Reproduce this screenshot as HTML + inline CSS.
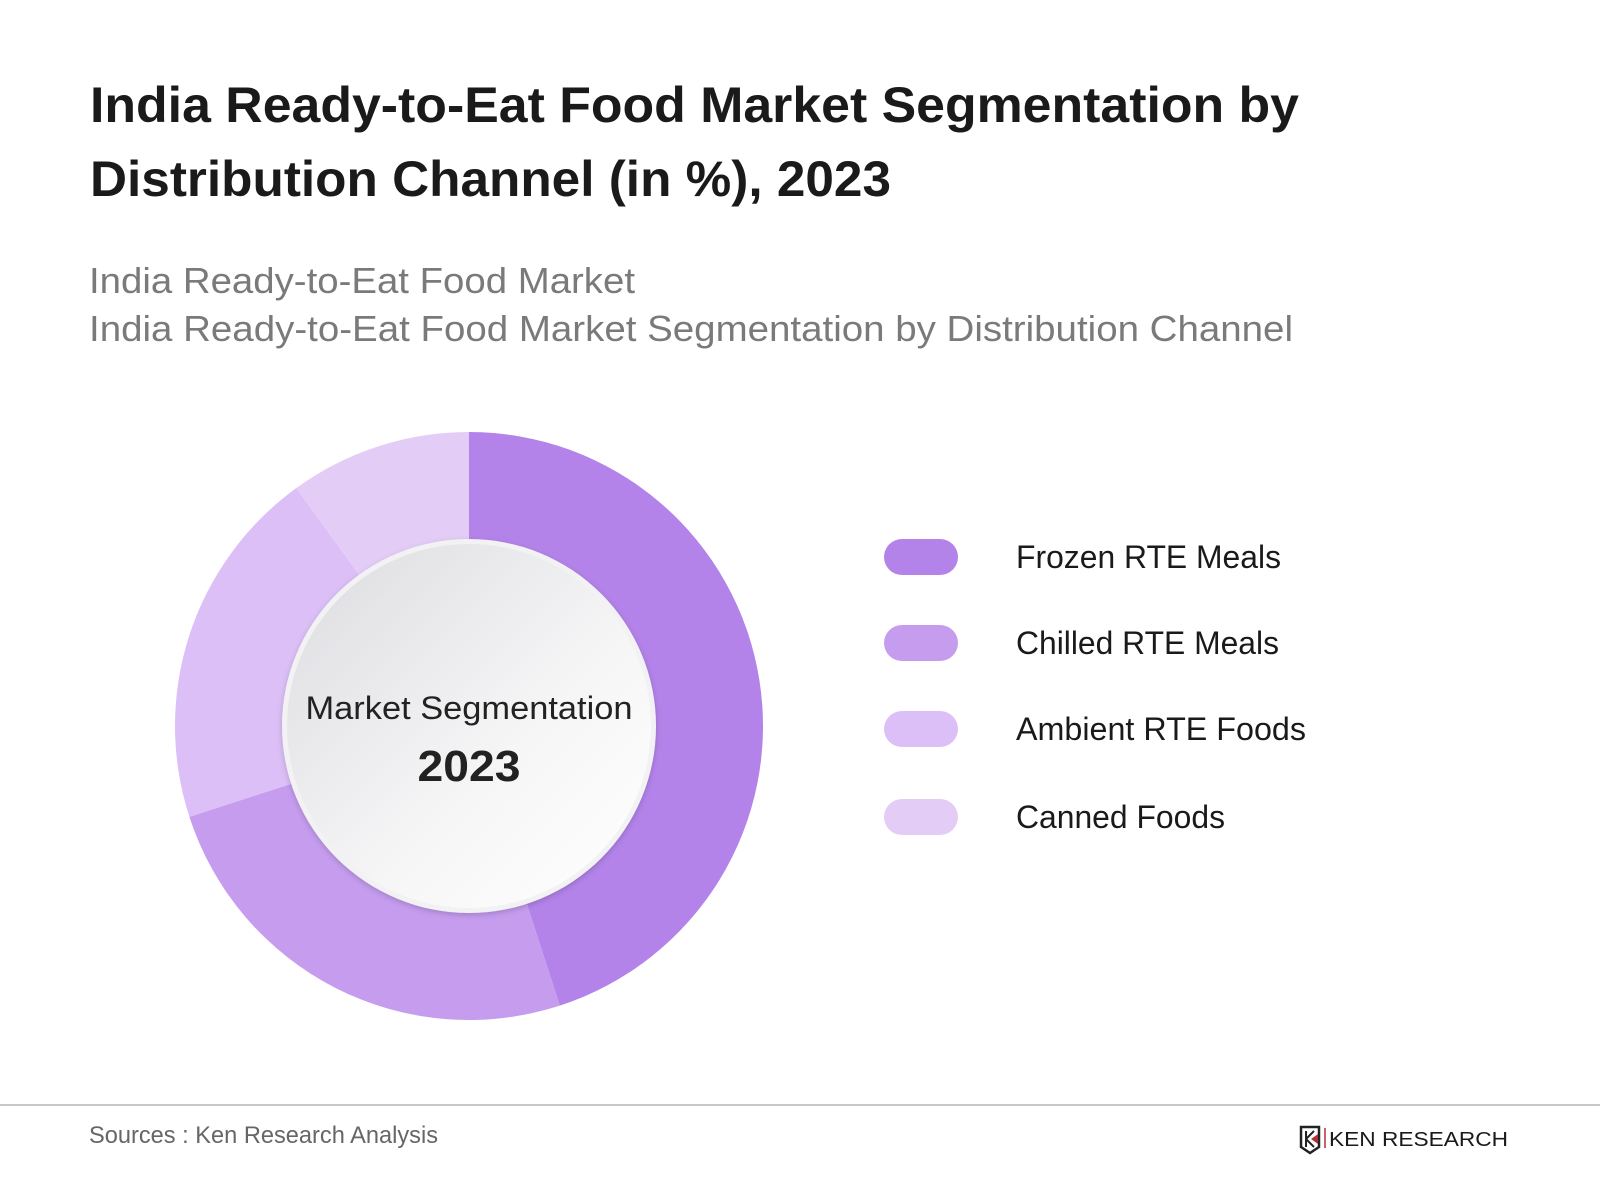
<!DOCTYPE html>
<html><head><meta charset="utf-8"><style>
html,body{margin:0;padding:0;background:#fff;}
svg{display:block;font-family:"Liberation Sans",sans-serif;}
</style></head><body>
<svg id="chart" width="1600" height="1200" viewBox="0 0 1600 1200">
<defs>
<linearGradient id="innerGrad" x1="0" y1="0" x2="1" y2="1">
<stop offset="0" stop-color="#dcdce0"/><stop offset="0.6" stop-color="#f6f6f7"/><stop offset="1" stop-color="#ffffff"/>
</linearGradient>
<filter id="sh" x="-20%" y="-20%" width="140%" height="140%"><feDropShadow dx="0" dy="2" stdDeviation="3" flood-color="#000" flood-opacity="0.18"/></filter>
</defs>
<text x="90" y="122" font-size="50" font-weight="bold" fill="#1a1a1a" textLength="1209" lengthAdjust="spacingAndGlyphs">India Ready-to-Eat Food Market Segmentation by</text>
<text x="90" y="196" font-size="50" font-weight="bold" fill="#1a1a1a" textLength="801" lengthAdjust="spacingAndGlyphs">Distribution Channel (in %), 2023</text>
<text x="89" y="293" font-size="36" fill="#7a7a7a" textLength="546" lengthAdjust="spacingAndGlyphs">India Ready-to-Eat Food Market</text>
<text x="89" y="341" font-size="36" fill="#7a7a7a" textLength="1204" lengthAdjust="spacingAndGlyphs">India Ready-to-Eat Food Market Segmentation by Distribution Channel</text>
<g id="donut"></g>
<circle cx="469" cy="726" r="187" fill="#f2f2f4" filter="url(#sh)"/>
<circle cx="469" cy="726" r="182" fill="url(#innerGrad)"/>
<text x="469" y="719" font-size="32" fill="#222" text-anchor="middle" textLength="327" lengthAdjust="spacingAndGlyphs">Market Segmentation</text>
<text x="469" y="781" font-size="44" font-weight="bold" fill="#222" text-anchor="middle" textLength="103" lengthAdjust="spacingAndGlyphs">2023</text>
<g id="legend"></g>
<line x1="0" y1="1105" x2="1600" y2="1105" stroke="#c8c8c8" stroke-width="2"/>
<text x="89" y="1143" font-size="24" fill="#666" textLength="349" lengthAdjust="spacingAndGlyphs">Sources : Ken Research Analysis</text>
<g>
<path d="M1301 1127 h18 v20 l-9 6 l-9 -6 z" fill="none" stroke="#222" stroke-width="2.5"/>
<path d="M1306 1131 v16 M1306 1139 l8 -8 M1306 1139 l8 8" stroke="#222" stroke-width="2" fill="none"/>
<path d="M1311 1139 l7 -5 v10 z" fill="#b0303a"/>
<line x1="1325" y1="1128" x2="1325" y2="1148" stroke="#b0303a" stroke-width="1.5"/>
<text x="1329" y="1146" font-size="20" fill="#1a1a1a" textLength="179" lengthAdjust="spacingAndGlyphs">KEN RESEARCH</text>
</g>
</svg>
<script>
const categories = ["Frozen RTE Meals","Chilled RTE Meals","Ambient RTE Foods","Canned Foods"];
const shares = [45, 25, 20, 10];
const colors = ["#b383e9","#c59cee","#dbbff6","#e3cdf7"];
const NS = "http://www.w3.org/2000/svg";
const cx = 469, cy = 726, R = 294, r0 = 150;
const total = shares.reduce((a,b)=>a+b,0);
function angle(v){ return v / total * 2 * Math.PI; }
function pt(rad, a){ return [cx + rad*Math.sin(a), cy - rad*Math.cos(a)]; }
const donut = document.getElementById('donut');
let acc = 0;
shares.forEach((v,i)=>{
  const a0 = angle(acc), a1 = angle(acc+v); acc += v;
  const large = (a1-a0) > Math.PI ? 1 : 0;
  const [x0,y0]=pt(R,a0),[x1,y1]=pt(R,a1),[x2,y2]=pt(r0,a1),[x3,y3]=pt(r0,a0);
  const p = document.createElementNS(NS,'path');
  p.setAttribute('d',`M${x0} ${y0} A${R} ${R} 0 ${large} 1 ${x1} ${y1} L${x2} ${y2} A${r0} ${r0} 0 ${large} 0 ${x3} ${y3} Z`);
  p.setAttribute('fill',colors[i]);
  
  
  donut.appendChild(p);
});
const legend = document.getElementById('legend');
const legendCenters = [557, 643, 729, 817];
const labelWidths = [265, 263, 290, 209];
categories.forEach((c,i)=>{
  const g = document.createElementNS(NS,'g');
  
  
  const rc = document.createElementNS(NS,'rect');
  rc.setAttribute('x',884); rc.setAttribute('y',legendCenters[i]-18);
  rc.setAttribute('width',74); rc.setAttribute('height',36);
  rc.setAttribute('rx',18); rc.setAttribute('fill',colors[i]);
  
  
  const t = document.createElementNS(NS,'text');
  t.setAttribute('x',1016); t.setAttribute('y',legendCenters[i]+11);
  t.setAttribute('font-size',32); t.setAttribute('fill','#1a1a1a');
  t.setAttribute('textLength',labelWidths[i]); t.setAttribute('lengthAdjust','spacingAndGlyphs');
  
  
  t.textContent = c;
  g.appendChild(rc); g.appendChild(t); legend.appendChild(g);
});
</script>
</body></html>
